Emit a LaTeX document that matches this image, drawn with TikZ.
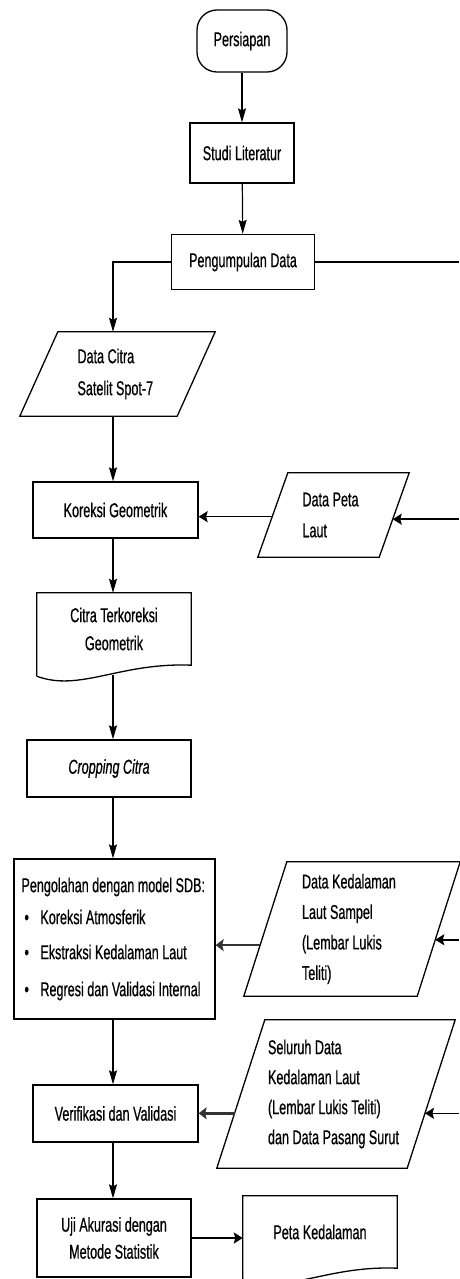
\documentclass[tikz,border=0pt]{standalone}
\usepackage{fontspec}
\setmainfont{Liberation Sans}[FakeStretch=0.63,FakeBold=0.6]
\usetikzlibrary{calc,arrows.meta}

\newcommand\parashape[2]{%
  \coordinate (#1tl) at ($(#1.north west)+(#2,0)$);
  \coordinate (#1tr) at (#1.north east);
  \coordinate (#1br) at ($(#1.south east)+(-#2,0)$);
  \coordinate (#1bl) at (#1.south west);
  \draw[outline] (#1tl) -- (#1tr) -- (#1br) -- (#1bl) -- cycle;}

\begin{document}
\begin{tikzpicture}[x=1pt,y=-1pt,
  every node/.style={font=\fontsize{20}{31}\selectfont, inner sep=0pt, text=black,
     execute at begin node={\spaceskip=0pt\xspaceskip=0pt\hyphenpenalty=10000\exhyphenpenalty=10000}},
  box/.style={draw=black, line width=1.3pt, rectangle, align=center},
  textonly/.style={rectangle},
  outline/.style={line width=1.3pt},
  link/.style={line width=1.3pt},
  varrow/.style={line width=1.2pt, -{Stealth[length=14pt,width=8pt,inset=2pt]}},
  harrow/.style={line width=1.5pt, -{Stealth[length=9pt,width=11pt,inset=1.5pt]}},
  heavyarrow/.style={line width=2.6pt, black!80, -{Stealth[length=8pt,width=12pt,inset=1.5pt]}}]

\useasboundingbox (0,0) rectangle (459,1279);
\coordinate (col) at (113,0);
\coordinate (edge) at (459,0);

% top chain
\node[box, rounded corners=20pt, minimum width=90pt, minimum height=62pt] (ps) at (242,41) {Persiapan};
\node[box, minimum width=104pt, minimum height=60pt] (st) at (242,153) {Studi Literatur};
\node[box, minimum width=143pt, minimum height=55pt] (pd) at (243,262) {Pengumpulan Data};

% left column
\node[textonly, minimum width=195pt, minimum height=84pt, text width=80pt, align=left,
      font=\fontsize{20}{32}\selectfont] (dc) at (117.5,374) {Data Citra\\Satelit Spot-7};
\parashape{dc}{38}
\node[box, minimum width=165pt, minimum height=56pt] (kg) at (115.5,510) {Koreksi Geometrik};
\node[textonly, minimum width=154pt, minimum height=72pt, align=center,
      font=\fontsize{20}{28}\selectfont] (ct) at (114,629) {Citra Terkoreksi\\Geometrik};
\draw[outline] ($(ct.south west)+(0,11)$) -- (ct.north west) -- (ct.north east) -- (ct.south east)
  .. controls +(-71,-3) and +(43,16) .. ($(ct.south west)+(0,11)$);
\coordinate (ctb) at ($(ct.south -| col)+(0,10)$);
\node[box, minimum width=164pt, minimum height=57pt, font=\fontsize{20}{31}\selectfont\itshape] (cr) at (109,768.5) {Cropping Citra};
\node[box, minimum width=201pt, minimum height=160pt, text width=186pt, align=left] (pg) at (114.5,939)
  {Pengolahan dengan model SDB:\\[1pt]
   \hspace*{3pt}\textbullet\hspace{11.5pt}Koreksi Atmosferik\\[4pt]
   \hspace*{3pt}\textbullet\hspace{11.5pt}Ekstraksi Kedalaman Laut\\[6pt]
   \hspace*{3pt}\textbullet\hspace{11.5pt}Regresi dan Validasi Internal};
\node[box, minimum width=165pt, minimum height=57pt] (vv) at (115.5,1113.5) {Verifikasi dan Validasi};
\node[box, minimum width=154pt, minimum height=78pt, font=\fontsize{20}{27}\selectfont] (uj) at (114,1238) {Uji Akurasi dengan\\Metode Statistik};

% right column inputs
\node[textonly, minimum width=151pt, minimum height=84pt, text width=62pt, align=left] (dp) at (333.5,515) {Data Peta\\Laut};
\parashape{dp}{30}
\node[textonly, minimum width=216pt, minimum height=134pt, text width=100pt, align=left,
      font=\fontsize{20}{30.5}\selectfont] (dk) at (352,929) {Data Kedalaman\\Laut Sampel\\(Lembar Lukis\\Teliti)};
\parashape{dk}{43}
\node[textonly, minimum width=238pt, minimum height=148pt, text width=136pt, align=left,
      font=\fontsize{20}{30}\selectfont] (sd) at (336,1094) {Seluruh Data\\Kedalaman Laut\\(Lembar Lukis Teliti)\\dan Data Pasang Surut};
\parashape{sd}{48}

% output document
\node[textonly, minimum width=154pt, minimum height=72pt] (pk) at (320,1232) {Peta Kedalaman};
\draw[outline] ($(pk.south west)+(0,11)$) -- (pk.north west) -- (pk.north east) -- (pk.south east)
  .. controls +(-71,-3) and +(43,16) .. ($(pk.south west)+(0,11)$);

% connectors, main chain
\draw[varrow] (ps) -- (st);
\draw[varrow] (st) -- (pd);
\draw[varrow] (pd.west) -| (col |- dc.north);
\draw[link] (pd.east) -- (pd.east -| edge);
\draw[varrow] (col |- dc.south) -- (col |- kg.north);
\draw[varrow] (col |- kg.south) -- (col |- ct.north);
\draw[varrow] (ctb) -- (col |- cr.north);
\draw[varrow] (col |- cr.south) -- (col |- pg.north);
\draw[varrow] (col |- pg.south) -- (col |- vv.north);
\draw[varrow] (col |- vv.south) -- (col |- uj.north);
\draw[harrow] (uj.east) -- (uj.east -| pk.west);

% side inputs
\coordinate (dpL) at ($(dptl)!0.52!(dpbl)$);
\coordinate (dpR) at ($(dptr)!0.55!(dpbr)$);
\draw[harrow] (dpL) -- (dpL -| kg.east);
\draw[harrow] (dpR -| edge) -- (dpR);

\coordinate (dkL) at ($(dktl)!0.62!(dkbl)$);
\coordinate (dkR) at ($(dktr)!0.58!(dkbr)$);
\draw[heavyarrow] (dkL) -- (dkL -| pg.east);
\draw[harrow] (dkR -| edge) -- (dkR);

\coordinate (sdL) at ($(sdtl)!0.63!(sdbl)$);
\coordinate (sdR) at ($(sdtr)!0.63!(sdbr)$);
\draw[heavyarrow] (sdL) -- (sdL -| vv.east);
\draw[harrow] (sdR -| edge) -- (sdR);
\end{tikzpicture}
\end{document}
